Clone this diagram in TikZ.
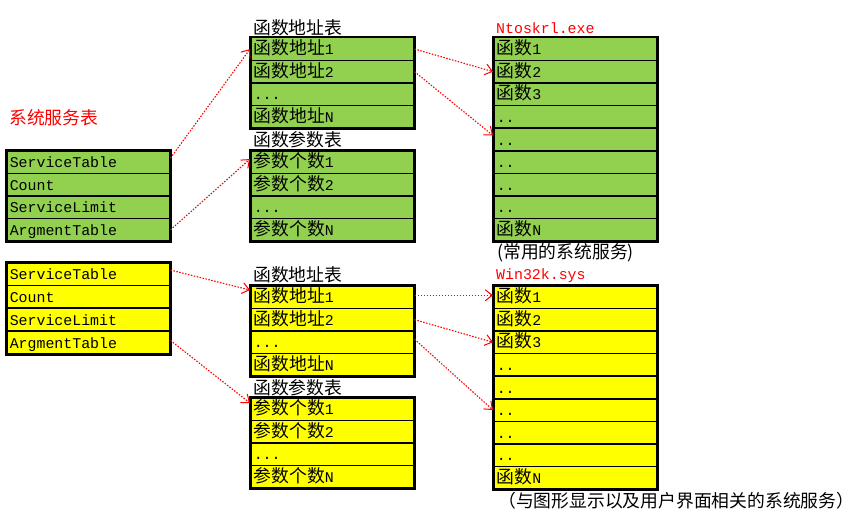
\documentclass[tikz,border=0pt]{standalone}
\usepackage{fontspec}
\setmonofont{Liberation Mono}
\newfontfamily\cjk{Noto Sans CJK SC}
\usetikzlibrary{arrows.meta}
\newcommand\zhs[1]{{\cjk\fontsize{17.8}{17.8}\selectfont #1}}
\newcommand\tdots{...}
\newcommand\twodots{..}
\definecolor{cellgreen}{HTML}{92D050}
\definecolor{cellyellow}{HTML}{FFFF00}
\definecolor{linkred}{HTML}{FF0000}
\begin{document}
\begin{tikzpicture}[x=1pt,y=-1pt,
  cell/.style={draw=black, line width=1.5pt, anchor=north west, text width=157pt,
    inner xsep=3pt, inner ysep=0pt, text height=17pt, text depth=5.6pt, align=left,
    font=\ttfamily\fontsize{14.9}{17}\selectfont},
  gcell/.style={cell, fill=cellgreen},
  ycell/.style={cell, fill=cellyellow},
  frame/.style={draw=black, line width=2pt},
  title/.style={anchor=west, inner sep=0pt, font=\ttfamily\fontsize{14.9}{17}\selectfont},
  redtitle/.style={title, text=linkred},
  link/.style={draw=linkred, line width=1.1pt, dash pattern=on 1.5pt off 1.5pt,
    -{Straight Barb[length=7pt,width=11pt,line width=1pt]}}
]
\useasboundingbox[fill=white] (0,0) rectangle (855,527);

% green system service table
\foreach \t [count=\i] in {ServiceTable,Count,ServiceLimit,ArgmentTable}
  \node[gcell] (gs\i) at (6,{150+22.6*(\i-1)}) {\t};
\draw[frame] (gs1.north west) rectangle (gs4.south east);

% green function address table
\foreach \t [count=\i] in {{\zhs{函数地址}1},{\zhs{函数地址}2},\tdots,{\zhs{函数地址}N}}
  \node[gcell] (ga\i) at (250,{37+22.6*(\i-1)}) {\t};
\draw[frame] (ga1.north west) rectangle (ga4.south east);

% green parameter table
\foreach \t [count=\i] in {{\zhs{参数个数}1},{\zhs{参数个数}2},\tdots,{\zhs{参数个数}N}}
  \node[gcell] (gp\i) at (250,{150+22.6*(\i-1)}) {\t};
\draw[frame] (gp1.north west) rectangle (gp4.south east);

% Ntoskrl table
\foreach \t [count=\i] in {{\zhs{函数}1},{\zhs{函数}2},{\zhs{函数}3},\twodots,\twodots,\twodots,\twodots,\twodots,{\zhs{函数}N}}
  \node[gcell] (gn\i) at (493,{37+22.6*(\i-1)}) {\t};
\draw[frame] (gn1.north west) rectangle (gn9.south east);

% yellow system service table
\foreach \t [count=\i] in {ServiceTable,Count,ServiceLimit,ArgmentTable}
  \node[ycell] (ys\i) at (6,{262+22.8*(\i-1)}) {\t};
\draw[frame] (ys1.north west) rectangle (ys4.south east);

% yellow function address table
\foreach \t [count=\i] in {{\zhs{函数地址}1},{\zhs{函数地址}2},\tdots,{\zhs{函数地址}N}}
  \node[ycell] (ya\i) at (250,{285+22.6*(\i-1)}) {\t};
\draw[frame] (ya1.north west) rectangle (ya4.south east);

% yellow parameter table
\foreach \t [count=\i] in {{\zhs{参数个数}1},{\zhs{参数个数}2},\tdots,{\zhs{参数个数}N}}
  \node[ycell] (yp\i) at (250,{397+22.6*(\i-1)}) {\t};
\draw[frame] (yp1.north west) rectangle (yp4.south east);

% Win32k table
\foreach \t [count=\i] in {{\zhs{函数}1},{\zhs{函数}2},{\zhs{函数}3},\twodots,\twodots,\twodots,\twodots,\twodots,{\zhs{函数}N}}
  \node[ycell] (yw\i) at (493,{285+22.6*(\i-1)}) {\t};
\draw[frame] (yw1.north west) rectangle (yw9.south east);

% titles
\node[redtitle] (t1) at (9,118) {\zhs{系统服务表}};
\node[title] (t2) at (253,28) {\zhs{函数地址表}};
\node[title] (t3) at (253,140) {\zhs{函数参数表}};
\node[redtitle] (t4) at (496,28) {Ntoskrl.exe};
\node[title] (t5) at (497,253) {\zhs{(常用的系统服务)}};
\node[title] (t6) at (253,275) {\zhs{函数地址表}};
\node[title] (t7) at (253,388) {\zhs{函数参数表}};
\node[redtitle] (t8) at (496,276) {Win32k.sys};
\node[title] (t9) at (498,501) {\zhs{（与图形显示以及用户界面相关的系统服务）}};

% links
\draw[link] ([yshift=4pt]gs1.east) -- (ga1.west);
\draw[link] (gs4.east) -- ([yshift=3pt]gp1.west);
\draw[link] (ga1.east) -- (gn2.west);
\draw[link] (ga2.east) -- ([yshift=4pt]gn5.west);
\draw[link] ([yshift=4pt]ys1.east) -- ([yshift=7pt]ya1.west);
\draw[link] ([yshift=2pt]ys4.east) -- ([yshift=6pt]yp1.west);
\draw[link] ([yshift=1.8pt]ya1.east) -- ([yshift=1.8pt]yw1.west);
\draw[link] (ya2.east) -- (yw3.west);
\draw[link] ([yshift=3pt]ya3.east) -- (yw6.west);
\end{tikzpicture}
\end{document}
